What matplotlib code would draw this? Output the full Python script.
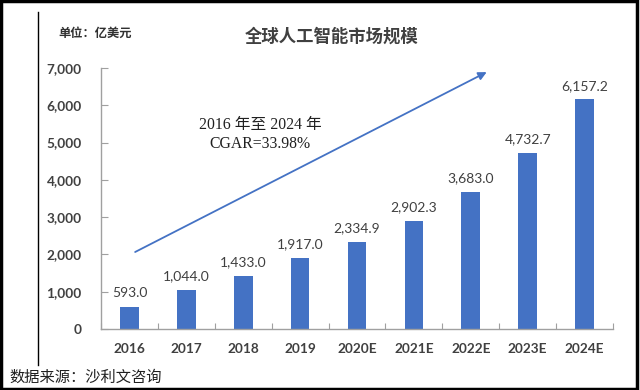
import matplotlib
matplotlib.use("Agg")
import matplotlib.pyplot as plt
from matplotlib.patches import Rectangle
from matplotlib.lines import Line2D

years = ["2016", "2017", "2018", "2019", "2020E", "2021E", "2022E", "2023E", "2024E"]
values = [593.0, 1044.0, 1433.0, 1917.0, 2334.9, 2902.3, 3683.0, 4732.7, 6157.2]
yticks = [0, 1000, 2000, 3000, 4000, 5000, 6000, 7000]

cjk = ["Noto Sans CJK SC", "DejaVu Sans"]
num_font = "Lato"
grey = "#404040"

fig = plt.figure(figsize=(6.4, 3.9), dpi=100)
W, H = 640, 390
ax = fig.add_axes([101 / W, (H - 329) / H, (613 - 101) / W, (329 - 68) / H])

x = range(len(years))
ax.bar(x, values, width=0.33, color="#4472C4", zorder=2)
for xi, v in zip(x, values):
    ax.text(xi, v + 200, f"{v:,.1f}", ha="center", va="bottom",
            fontsize=10, family=num_font, color=grey)

ax.set_xlim(-0.5, len(years) - 0.5)
ax.set_ylim(0, 7000)
ax.set_yticks(yticks)
ax.set_yticklabels([f"{t:,}" for t in yticks], fontsize=9.8, family=num_font,
                   fontweight="bold", color=grey)
ax.set_xticks([i - 0.5 for i in range(len(years) + 1)], minor=False)
ax.set_xticklabels([])
ax.set_xticks(list(x), minor=True)
ax.set_xticklabels(years, minor=True, fontsize=9.8, family=num_font,
                   fontweight="bold", color=grey)
ax.tick_params(axis="x", which="minor", length=0, pad=10)
ax.tick_params(axis="x", which="major", direction="in", length=4, color="#a0a0a0")
ax.tick_params(axis="y", direction="in", length=5, color="#a0a0a0", pad=14)
for s in ["top", "right"]:
    ax.spines[s].set_visible(False)
for s in ["left", "bottom"]:
    ax.spines[s].set_color("#a0a0a0")
    ax.spines[s].set_linewidth(1.0)

# trend arrow and CAGR note
ax.annotate("", xy=(6.28, 6890), xytext=(0.1, 2065),
            arrowprops=dict(arrowstyle="-|>", color="#4472C4", lw=1.3,
                            mutation_scale=12, shrinkA=0, shrinkB=0))
ax.text(2.3, 5480, "2016 年至 2024 年", ha="center", va="center",
        fontsize=11.3, family=["Liberation Serif", "Noto Sans CJK SC"], color="#202020")
ax.text(2.3, 4960, "CGAR=33.98%", ha="center", va="center",
        fontsize=11.3, family="Liberation Serif", color="#202020")

fig.text(332 / W, 1 - 37 / H, "全球人工智能市场规模", ha="center", va="center",
         fontsize=12.5, fontweight="bold", family=cjk, color="#404040")
fig.text(58 / W, 1 - 33 / H, "单位：亿美元", ha="left", va="center",
         fontsize=8.8, fontweight="bold", family=cjk, color="#303030")
fig.text(9 / W, 1 - 377 / H, "数据来源：沙利文咨询", ha="left", va="center",
         fontsize=11, family=cjk, color="#202020")

# frame lines
fig.add_artist(Line2D([38 / W, 38 / W], [1 - 12 / H, 1 - 365 / H],
                      transform=fig.transFigure, color="black", lw=1))
fig.add_artist(Rectangle((0.002, 0.003), 0.994, 0.994, transform=fig.transFigure,
                         fill=False, edgecolor="black", lw=2.5))

fig.savefig("out.png", dpi=100)
